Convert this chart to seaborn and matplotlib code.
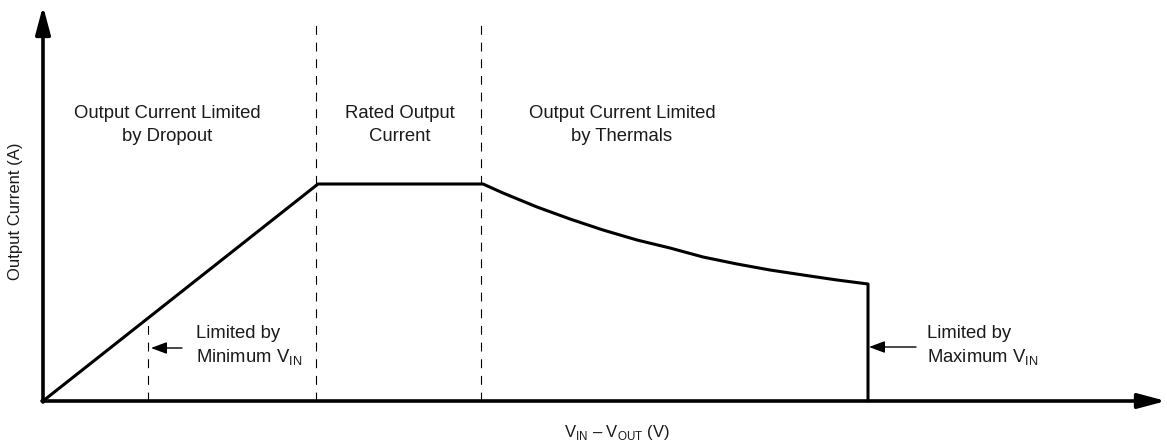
import numpy as np
import pandas as pd
import matplotlib
matplotlib.use("Agg")
import matplotlib.pyplot as plt
import seaborn as sns

# curve (arbitrary units, origin at the axes corner)
volt_drop = [0, 275, 440, 460, 494, 527, 560, 594, 627, 660, 694, 727, 760, 794, 825, 825]
current = [0, 217, 217, 208, 194, 182, 171, 161, 153, 144, 137, 131, 126, 121, 117, 0]

# region boundaries
vin_min = 105
rated_start = 273
rated_end = 438
vin_max = 825

region_labels = ["Output Current Limited\nby Dropout", "Rated Output\nCurrent", "Output Current Limited\nby Thermals"]
region_x = [124, 357, 579]

sns.set_theme(style="white")
plt.rcParams["font.family"] = ["Liberation Sans", "DejaVu Sans"]
plt.rcParams["mathtext.fontset"] = "custom"
plt.rcParams["mathtext.rm"] = "Liberation Sans"
plt.rcParams["mathtext.sf"] = "Liberation Sans"

df = pd.DataFrame({"vdrop": volt_drop, "iout": current})

fig = plt.figure(figsize=(11.67, 4.45), dpi=100)
ax = fig.add_axes([0, 0, 1, 1])
fig.patch.set_facecolor("white")
ax.set_facecolor("white")

# curve
sns.lineplot(data=df, x="vdrop", y="iout", sort=False, estimator=None,
             color="black", linewidth=2.2, ax=ax)
ax.lines[-1].set_solid_joinstyle("round")

# dashed region lines
dash = (0, (8, 7))
ax.plot([vin_min, vin_min], [0, 217 * vin_min / 275], color="black", lw=0.8, ls=dash)
ax.plot([rated_start, rated_start], [0, 381], color="black", lw=0.8, ls=dash)
ax.plot([rated_end, rated_end], [0, 381], color="black", lw=0.8, ls=dash)

# axis arrows
head = "-|>,head_length=1.05,head_width=0.28"
ax.annotate("", xy=(1123, 0), xytext=(-1, 0),
            arrowprops=dict(arrowstyle=head, lw=2.6, color="black",
                            shrinkA=0, shrinkB=0, mutation_scale=16))
ax.annotate("", xy=(0, 395), xytext=(0, -1),
            arrowprops=dict(arrowstyle=head, lw=2.6, color="black",
                            shrinkA=0, shrinkB=0, mutation_scale=16))

# region labels
for lab, xx in zip(region_labels, region_x):
    ax.text(xx, 276, lab, ha="center", va="center", fontsize=13.3, color="#1a1a1a", linespacing=1.45)

# limit annotations
ax.annotate("", xy=(vin_min + 3, 53), xytext=(139, 53),
            arrowprops=dict(arrowstyle="-|>,head_length=0.8,head_width=0.3", lw=1.0, color="black",
                            shrinkA=0, shrinkB=0, mutation_scale=12))
ax.text(153, 55, "Limited by\nMinimum V$_{\\mathrm{IN}}$", ha="left", va="center",
        fontsize=13.3, color="#1a1a1a", linespacing=1.3)

ax.annotate("", xy=(vin_max + 1, 54), xytext=(873, 54),
            arrowprops=dict(arrowstyle="-|>,head_length=0.8,head_width=0.3", lw=1.0, color="black",
                            shrinkA=0, shrinkB=0, mutation_scale=12))
ax.text(884, 55, "Limited by\nMaximum V$_{\\mathrm{IN}}$", ha="left", va="center",
        fontsize=13.3, color="#1a1a1a", linespacing=1.3)

# axis titles
ax.text(574, -31, "V$_{\\mathrm{IN}}$ \u2013 V$_{\\mathrm{OUT}}$ (V)", ha="center", va="center",
        fontsize=12, color="#1a1a1a")
ax.text(-27, 190, "Output Current (A)", ha="center", va="center", rotation=90,
        fontsize=12, color="#1a1a1a")

ax.set_xlim(-43, 1124)
ax.set_ylim(-44, 401)
ax.set_xlabel("")
ax.set_ylabel("")
ax.set_xticks([])
ax.set_yticks([])
for s in ax.spines.values():
    s.set_visible(False)

fig.savefig("out.png", dpi=100)
